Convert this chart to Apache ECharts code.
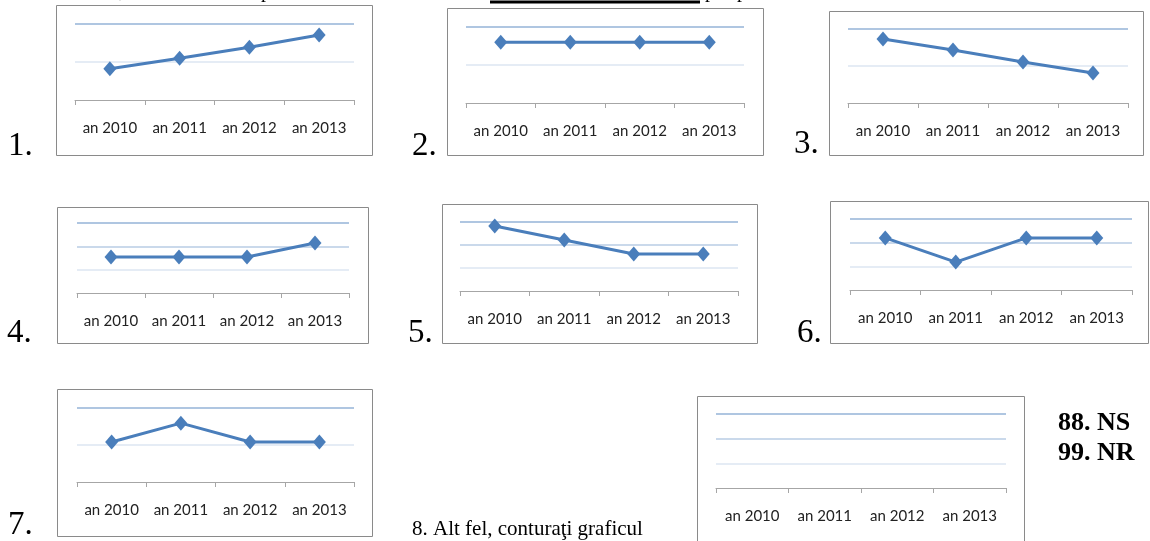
<!DOCTYPE html>
<html>
<head>
<meta charset="utf-8">
<script src="https://cdn.jsdelivr.net/npm/echarts@6/dist/echarts.min.js"></script>
<style>
  html, body { margin: 0; padding: 0; background: #fff; }
  #main { width: 1150px; height: 541px; }
</style>
</head>
<body>
<div id="main"></div>
<script>
// categories shared by every small chart
var years = ['an 2010', 'an 2011', 'an 2012', 'an 2013'];

// values (chart 8 is empty)
var v1 = [0.82, 1.1, 1.39, 1.71];
var v2 = [1.6, 1.6, 1.6, 1.6];
var v3 = [1.73, 1.43, 1.11, 0.81];
var v4 = [1.54, 1.54, 1.54, 2.14];
var v5 = [2.83, 2.22, 1.61, 1.61];
var v6 = [2.2, 1.18, 2.2, 2.2];
var v7 = [1.08, 1.59, 1.08, 1.08];
var v8 = null;

// top of value axis for each chart (gridlines at every unit)
var yMax = [2, 2, 2, 3, 3, 3, 2, 3];

var seriesData = [v1, v2, v3, v4, v5, v6, v7, v8];

// plot area of each chart: [left, top, right, bottom]
var plots = [
  [75, 24, 354, 100],
  [466, 27, 744, 103],
  [848, 29, 1128, 103],
  [77, 223, 349, 293],
  [460, 222, 738, 291],
  [850, 219, 1132, 290],
  [77, 408, 354, 482],
  [716, 414, 1006, 488]
];
// frame round each chart: [x1, y1, x2, y2]
var frames = [
  [56, 5, 372, 155],
  [447, 8, 763, 155],
  [829, 11, 1143, 155],
  [57, 207, 368, 343],
  [442, 204, 757, 343],
  [830, 201, 1148, 343],
  [57, 389, 372, 536],
  [697, 396, 1024, 560]
];
// item numbers: [text, x, baseline]
var numbers = [
  ['1.', 8, 157], ['2.', 412, 157], ['3.', 794, 155],
  ['4.', 7, 344], ['5.', 408, 344], ['6.', 797, 344],
  ['7.', 8, 536]
];

var chart = echarts.init(document.getElementById('main'));

var grids = [], xAxes = [], yAxes = [], series = [], graphics = [];

plots.forEach(function (p, i) {
  grids.push({
    left: p[0], top: p[1], width: p[2] - p[0], height: p[3] - p[1],
    containLabel: false
  });
  xAxes.push({
    type: 'category',
    gridIndex: i,
    data: years,
    boundaryGap: true,
    axisLine: { show: true, lineStyle: { color: '#a6a6a6', width: 1 } },
    axisTick: { show: true, length: 5, lineStyle: { color: '#a6a6a6' } },
    axisLabel: {
      margin: 21,
      color: '#222',
      fontFamily: 'Lato',
      fontSize: 15,
      interval: 0
    },
    splitLine: { show: false }
  });
  var lineColors = yMax[i] === 3
    ? ['#ffffff', '#dce6f2', '#b9cde5', '#95b3d7']
    : ['#ffffff', '#dce6f2', '#95b3d7'];
  yAxes.push({
    type: 'value',
    gridIndex: i,
    min: 0,
    max: yMax[i],
    interval: 1,
    axisLine: { show: false },
    axisTick: { show: false },
    axisLabel: { show: false },
    splitLine: { show: true, lineStyle: { color: lineColors, width: 1.5 } }
  });
  if (seriesData[i]) {
    series.push({
      type: 'line',
      xAxisIndex: i,
      yAxisIndex: i,
      data: seriesData[i],
      symbol: 'diamond',
      symbolSize: [13, 15],
      showSymbol: true,
      lineStyle: { color: '#4a7ebb', width: 3 },
      itemStyle: { color: '#4a7ebb' },
      z: 5
    });
  }
});

frames.forEach(function (f) {
  graphics.push({
    type: 'rect',
    silent: true,
    shape: { x: f[0] + 0.5, y: f[1] + 0.5, width: f[2] - f[0], height: f[3] - f[1] },
    style: { fill: 'none', stroke: '#8a8a8a', lineWidth: 1 },
    z: -10
  });
});

numbers.forEach(function (n) {
  graphics.push({
    type: 'text',
    x: n[1], y: n[2] - 11,
    style: {
      text: n[0], fill: '#000',
      font: '33px "Liberation Serif"',
      verticalAlign: 'middle', align: 'left'
    }
  });
});

graphics.push(
  {
    type: 'text', x: 412, y: 529,
    style: { text: '8. Alt fel, conturaţi graficul', fill: '#000',
      font: '21px "Liberation Serif"', verticalAlign: 'middle' }
  },
  {
    type: 'text', x: 1058, y: 423,
    style: { text: '88. NS', fill: '#000',
      font: 'bold 26px "Liberation Serif"', verticalAlign: 'middle' }
  },
  {
    type: 'text', x: 1058, y: 453,
    style: { text: '99. NR', fill: '#000',
      font: 'bold 26px "Liberation Serif"', verticalAlign: 'middle' }
  },
  // cut-off line of the question above the charts
  {
    type: 'line', silent: true,
    shape: { x1: 490, y1: 2, x2: 700, y2: 2 },
    style: { stroke: '#000', lineWidth: 3 }
  },
  {
    type: 'text', x: 119, y: -8,
    style: { text: ',', fill: '#000', font: '20px "Liberation Serif"', verticalAlign: 'middle' }
  },
  {
    type: 'text', x: 261, y: -8,
    style: { text: 'p', fill: '#000', font: '20px "Liberation Serif"', verticalAlign: 'middle' }
  },
  {
    type: 'text', x: 705, y: -8,
    style: { text: 'p', fill: '#000', font: '20px "Liberation Serif"', verticalAlign: 'middle' }
  },
  {
    type: 'text', x: 737, y: -8,
    style: { text: 'p', fill: '#000', font: '20px "Liberation Serif"', verticalAlign: 'middle' }
  }
);

var option = {
  animation: false,
  backgroundColor: '#fff',
  grid: grids,
  xAxis: xAxes,
  yAxis: yAxes,
  series: series,
  graphic: graphics
};
chart.setOption(option);
</script>
</body>
</html>
